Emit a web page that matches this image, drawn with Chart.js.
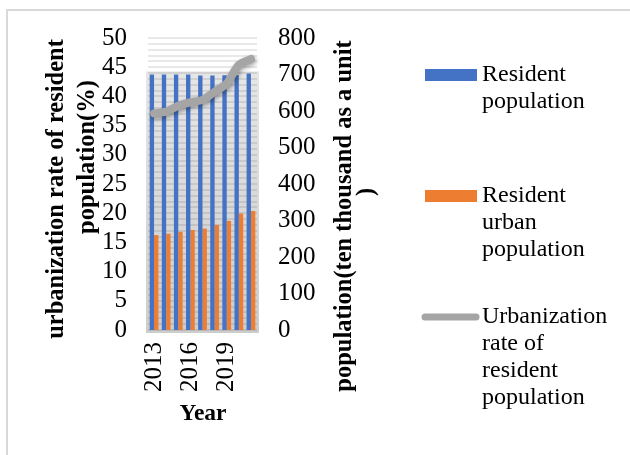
<!DOCTYPE html>
<html lang="en">
<head>
  <meta charset="UTF-8"/>
  <title>Resident population and urbanization rate</title>
  <style>
    html, body { margin: 0; padding: 0; background: #fff; }
    #wrap { width: 630px; height: 455px; position: relative; }
  </style>
  <script src="https://cdn.jsdelivr.net/npm/chart.js"></script>
</head>
<body>
  <div id="wrap"><canvas id="chart" width="630" height="455"></canvas></div>

  <script>
    const years = ['2013', '2014', '2015', '2016', '2017', '2018', '2019', '2020', '2021'];
    const residentPop = [700, 700, 700, 700, 697, 697, 698, 698, 703];
    const urbanPop = [260, 264, 269, 274, 278, 288, 299, 319, 326];
    const urbanRate = [37.1, 37.4, 38.4, 39.0, 39.4, 40.8, 42.2, 45.4, 46.4];

    const serif = "'Liberation Serif', 'Times New Roman', serif";

    // plot box
    const AREA = { left: 148, right: 257, top: 38, bottom: 330 };

    const legendItems = [
      { kind: 'bar', color: '#4472C4', y: 75, lines: ['Resident', 'population'] },
      { kind: 'bar', color: '#ED7D31', y: 196, lines: ['Resident', 'urban', 'population'] },
      { kind: 'line', color: '#A5A5A5', y: 317, lines: ['Urbanization', 'rate of', 'resident', 'population'] }
    ];

    const decor = {
      id: 'decor',
      beforeDraw(chart) {
        const { ctx, chartArea: a } = chart;
        const y1 = chart.scales.y1;
        ctx.save();
        // outer frame
        ctx.strokeStyle = '#d9d9d9';
        ctx.lineWidth = 2;
        ctx.beginPath();
        ctx.moveTo(7, 455);
        ctx.lineTo(7, 10);
        ctx.lineTo(630, 10);
        ctx.stroke();
        // grey glow behind the bars
        const top = y1.getPixelForValue(Math.max(...residentPop));
        const g = ctx.createLinearGradient(0, top, 0, a.bottom);
        g.addColorStop(0, '#e6e6e6');
        g.addColorStop(0.5, '#d9d9d9');
        g.addColorStop(1, '#cdcdcd');
        ctx.fillStyle = g;
        ctx.fillRect(a.left - 2, top - 2, a.right - a.left + 4, a.bottom - top + 5);
        ctx.restore();
      },
      beforeDatasetDraw(chart, args) {
        if (args.index === 2) {
          const ctx = chart.ctx;
          ctx.save();
          ctx.shadowColor = 'rgba(0,0,0,0.35)';
          ctx.shadowBlur = 4;
          ctx.shadowOffsetX = 1;
          ctx.shadowOffsetY = 2;
        }
      },
      afterDatasetDraw(chart, args) {
        if (args.index === 2) chart.ctx.restore();
      },
      afterDraw(chart) {
        const ctx = chart.ctx;
        ctx.save();
        ctx.fillStyle = '#000';
        ctx.textAlign = 'center';
        ctx.textBaseline = 'middle';
        ctx.font = 'bold 24.5px ' + serif;

        const vtext = (txt, x, y) => {
          ctx.save();
          ctx.translate(x, y);
          ctx.rotate(-Math.PI / 2);
          ctx.fillText(txt, 0, 0);
          ctx.restore();
        };
        vtext('urbanization rate of resident', 57, 189);
        vtext('population(%)', 88, 157);
        vtext('population(ten thousand as a unit', 345, 216);
        vtext(')', 367, 192);
        ctx.font = 'bold 23.5px ' + serif;
        ctx.fillText('Year', 203, 414);

        // legend
        ctx.font = '24px ' + serif;
        ctx.textAlign = 'left';
        legendItems.forEach(item => {
          if (item.kind === 'bar') {
            ctx.fillStyle = item.color;
            ctx.fillRect(425, item.y - 6, 52, 12);
          } else {
            ctx.strokeStyle = item.color;
            ctx.lineWidth = 7;
            ctx.lineCap = 'round';
            ctx.beginPath();
            ctx.moveTo(425, item.y);
            ctx.lineTo(476, item.y);
            ctx.stroke();
          }
          ctx.fillStyle = '#000';
          item.lines.forEach((t, i) => ctx.fillText(t, 482, item.y + i * 27));
        });
        ctx.restore();
      }
    };

    new Chart(document.getElementById('chart'), {
      data: {
        labels: years,
        datasets: [
          {
            type: 'bar', label: 'Resident population', data: residentPop, yAxisID: 'y1',
            backgroundColor: '#4472C4', order: 1,
            categoryPercentage: 0.72, barPercentage: 1
          },
          {
            type: 'bar', label: 'Resident urban population', data: urbanPop, yAxisID: 'y1',
            backgroundColor: '#ED7D31', order: 2,
            categoryPercentage: 0.72, barPercentage: 1
          },
          {
            type: 'line', label: 'Urbanization rate of resident population', data: urbanRate, yAxisID: 'y',
            borderColor: '#A5A5A5', borderWidth: 8, pointRadius: 0, tension: 0.3,
            borderCapStyle: 'round', borderJoinStyle: 'round', order: 0
          }
        ]
      },
      options: {
        responsive: false,
        animation: false,
        layout: { padding: { top: AREA.top, left: 0, right: 0, bottom: 0 } },
        plugins: { legend: { display: false }, tooltip: { enabled: false } },
        scales: {
          x: {
            grid: { display: false, drawTicks: false },
            border: { display: false },
            ticks: {
              color: '#000', font: { family: serif, size: 25 },
              minRotation: 90, maxRotation: 90, padding: 12, autoSkip: false,
              callback: (v, i) => (i % 3 === 0 ? years[i] : '')
            },
            afterFit: s => { s.height = 455 - AREA.bottom; }
          },
          y: {
            position: 'left', min: 0, max: 50,
            grid: { color: 'rgba(0,0,0,0.09)', lineWidth: 2, drawTicks: false },
            border: { display: false },
            ticks: {
              stepSize: 1, maxTicksLimit: 100, autoSkip: false,
              color: '#000', font: { family: serif, size: 25 }, padding: 21,
              callback: v => (v % 5 === 0 ? v : '')
            },
            afterFit: s => { s.width = AREA.left; }
          },
          y1: {
            position: 'right', min: 0, max: 800,
            grid: { display: false, drawTicks: false },
            border: { display: false },
            ticks: {
              stepSize: 100, color: '#000', font: { family: serif, size: 25 }, padding: 21
            },
            afterFit: s => { s.width = 630 - AREA.right; }
          }
        }
      },
      plugins: [decor]
    });
  </script>
</body>
</html>
